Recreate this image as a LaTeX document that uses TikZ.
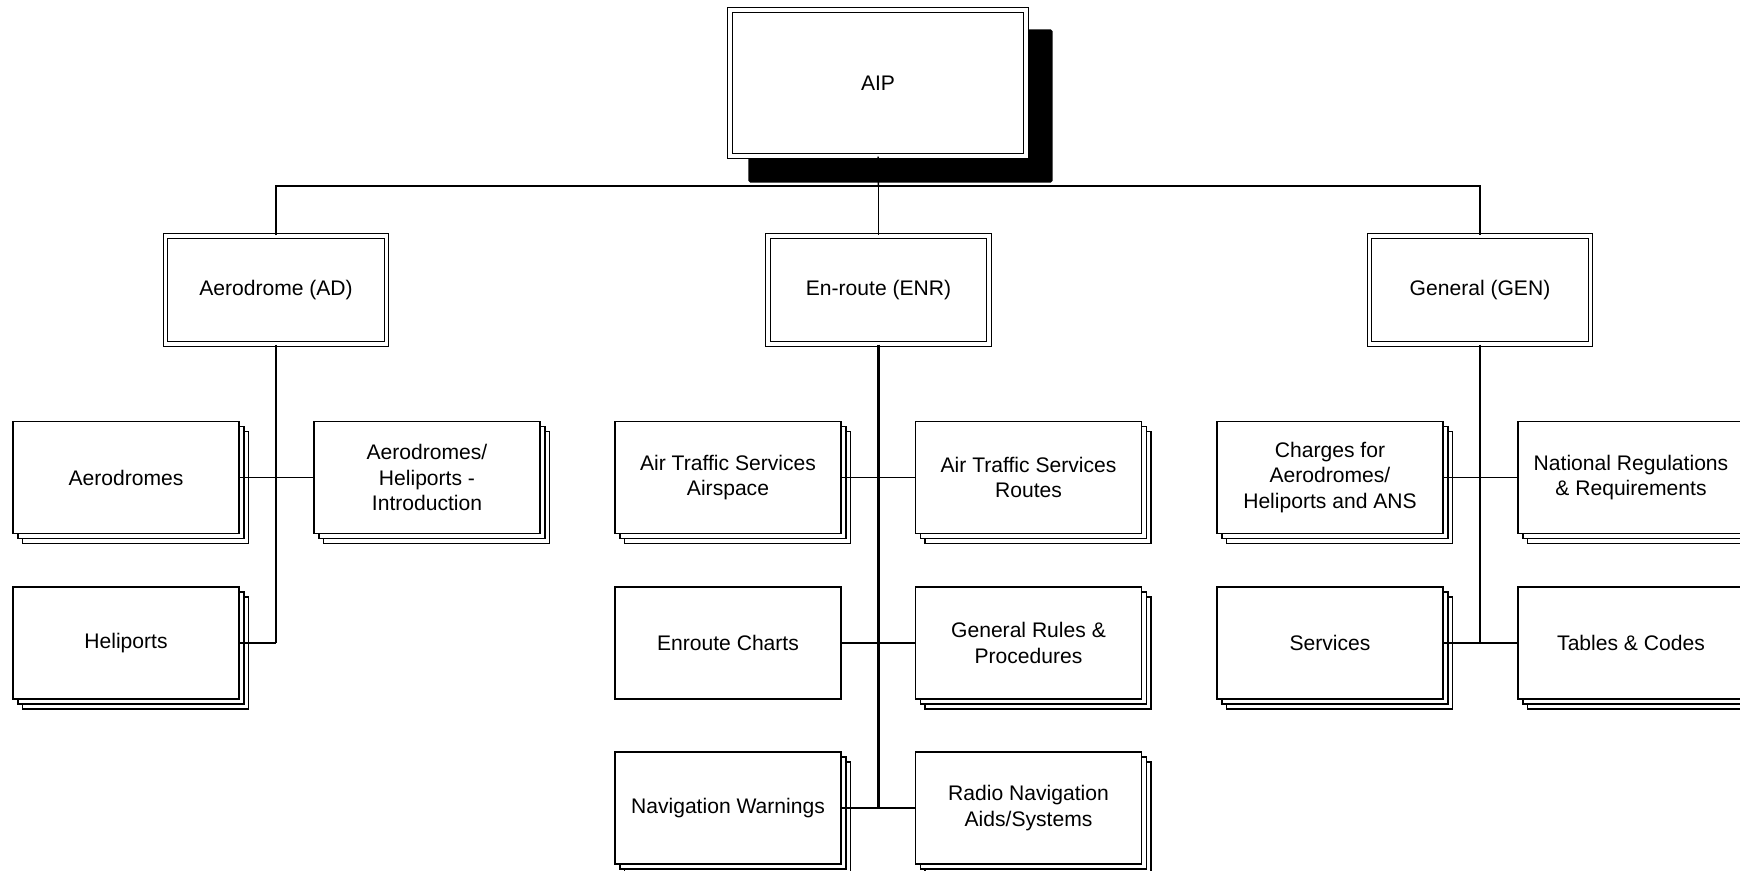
\documentclass[tikz,border=0pt]{standalone}
\usepackage{fontspec}
\setmainfont{Liberation Sans}
\usetikzlibrary{shadows,backgrounds}
\tikzset{
  every node/.style={font=\fontsize{12}{14.5}\selectfont, align=center, inner sep=0pt},
  topbox/.style={draw, double, double distance=0.07cm, line width=0.65pt, fill=white, minimum width=5.92cm, minimum height=2.92cm},
  secbox/.style={draw, double, double distance=0.07cm, line width=0.65pt, fill=white, minimum width=4.42cm, minimum height=2.16cm},
  leafbox/.style={draw, line width=0.8pt, fill=white, minimum width=4.52cm, minimum height=2.24cm},
  stackbox/.style={leafbox, copy shadow={shadow xshift=0.19cm, shadow yshift=-0.2cm, opacity=1}, copy shadow={shadow xshift=0.1cm, shadow yshift=-0.1cm, opacity=1}},
  trunk/.style={line width=1.2pt},
  link/.style={line width=0.85pt}
}
\begin{document}
\begin{tikzpicture}[x=0.02cm, y=-0.02cm]
\useasboundingbox (0,0) rectangle (1740,871);
\node[topbox] (aip) at (878,83) {AIP};
\begin{scope}[on background layer]
\fill[rounded corners=1pt] ([shift={(19,20)}]aip.north west) rectangle ([shift={(26,26)}]aip.south east);
\end{scope}
\node[secbox] (ad) at (276,290) {Aerodrome (AD)};
\node[secbox] (enr) at (878.5,290) {En-route (ENR)};
\node[secbox] (gen) at (1480,290) {General (GEN)};
\coordinate (bus) at (878.5,186);
\draw[link] (aip.south) -- (bus);
\draw[link] (ad.north) |- (bus) -| (gen.north);
\draw[link] (bus) -- (enr.north);

\node[stackbox] (aero) at (126,477.5) {Aerodromes};
\node[stackbox] (intro) at (427,477.5) {Aerodromes/\\Heliports -\\Introduction};
\node[stackbox] (heli) at (126,643) {Heliports};
\draw[trunk] (ad.south) -- (ad.south |- heli.east);
\draw[link] (aero.east) -- (intro.west);
\draw[link] (heli.east) -- (ad.south |- heli.east);

\node[stackbox] (atsair) at (728,477.5) {Air Traffic Services\\Airspace};
\node[stackbox] (atsrte) at (1028.5,477.5) {Air Traffic Services\\Routes};
\node[leafbox] (charts) at (728,643) {Enroute Charts};
\node[stackbox] (rules) at (1028.5,643) {General Rules \&\\Procedures};
\node[stackbox] (navwarn) at (728,808) {Navigation Warnings};
\node[stackbox] (radio) at (1028.5,808) {Radio Navigation\\Aids/Systems};
\draw[trunk] (enr.south) -- (enr.south |- navwarn.east);
\draw[link] (atsair.east) -- (atsrte.west);
\draw[link] (charts.east) -- (rules.west);
\draw[link] (navwarn.east) -- (radio.west);

\node[stackbox] (charges) at (1330,477.5) {Charges for\\Aerodromes/\\Heliports and ANS};
\node[stackbox] (natreg) at (1631,477.5) {National Regulations\\\& Requirements};
\node[stackbox] (services) at (1330,643) {Services};
\node[stackbox] (tables) at (1631,643) {Tables \& Codes};
\draw[trunk] (gen.south) -- (gen.south |- services.east);
\draw[link] (charges.east) -- (natreg.west);
\draw[link] (services.east) -- (tables.west);
\end{tikzpicture}
\end{document}
